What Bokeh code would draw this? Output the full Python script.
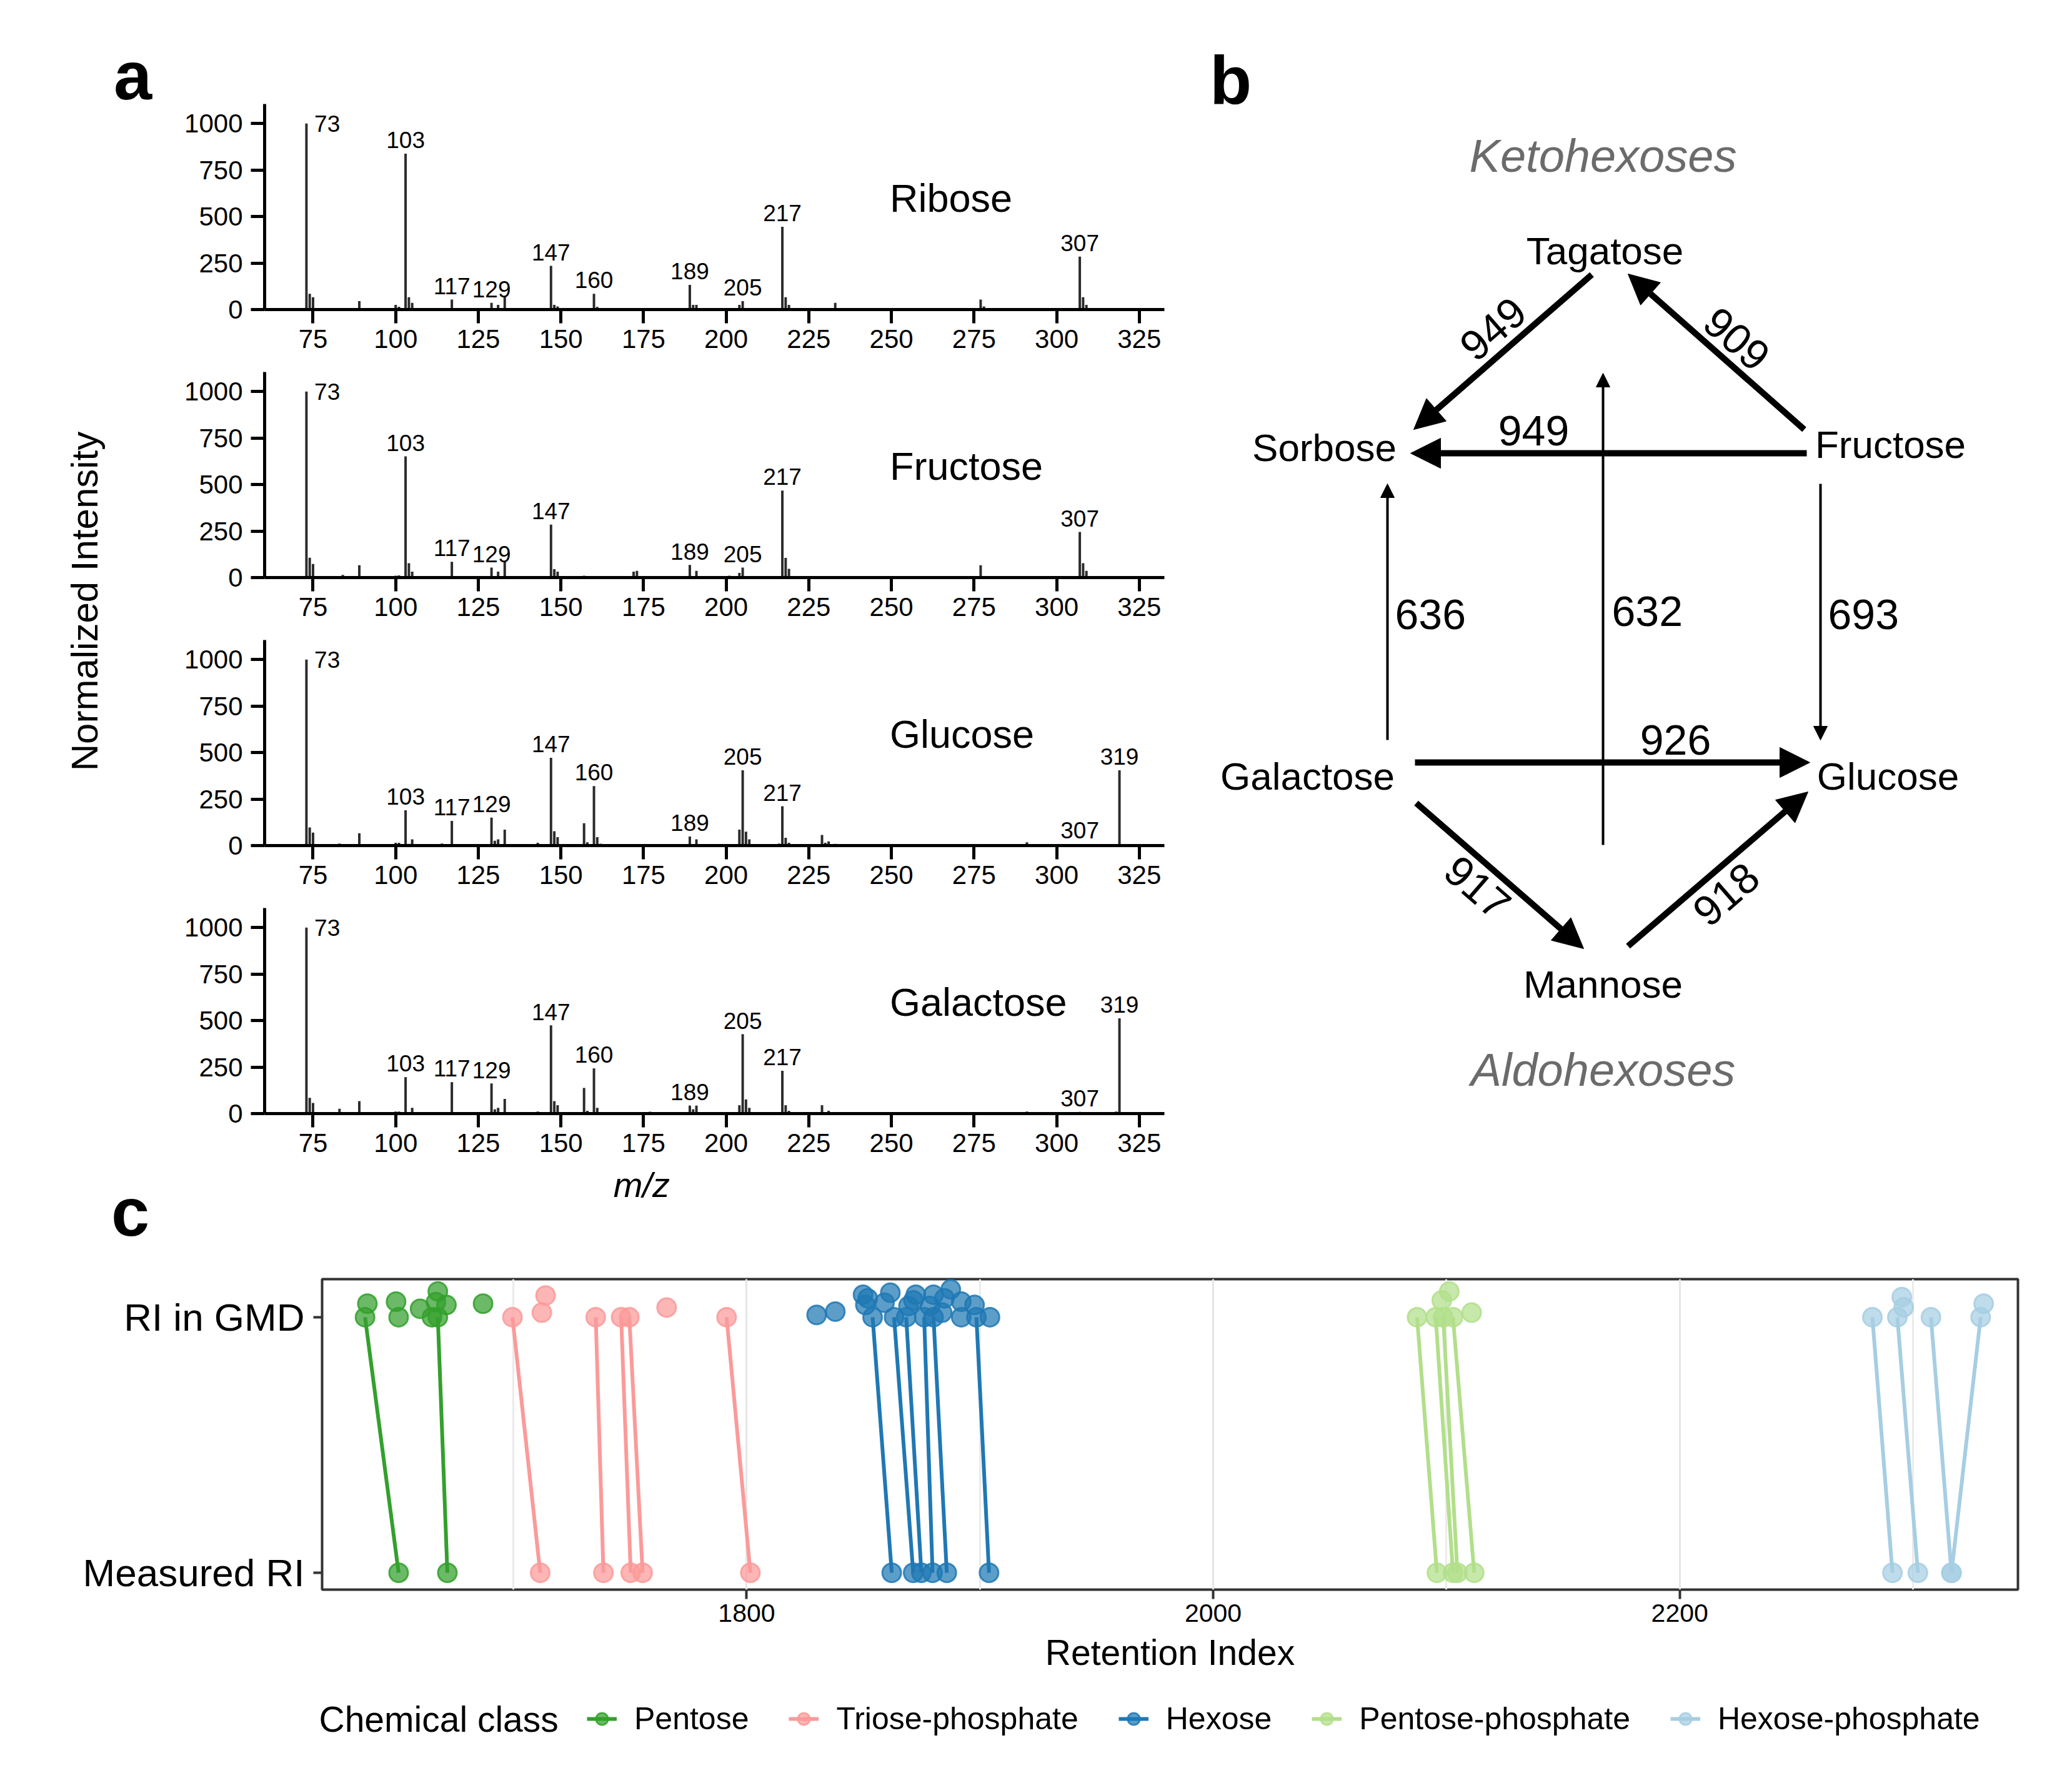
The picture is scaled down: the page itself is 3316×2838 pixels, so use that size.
import math
from bokeh.plotting import figure
from bokeh.layouts import row, column
from bokeh.models import (Range1d, FixedTicker, SingleIntervalTicker, Arrow, NormalHead,
                          Legend, LegendItem)
from bokeh.core.properties import value
from bokeh.embed import file_html
from bokeh.resources import INLINE

FONT = "Liberation Sans"

# ---------------- Panel a: mass spectra ----------------
ribose_mz = [73, 74, 75, 89, 100, 101, 103, 104, 105, 117, 129, 131, 133, 147, 148, 149, 160, 161,
             189, 190, 191, 204, 205, 217, 218, 219, 233, 277, 278, 307, 308, 309]
ribose_int = [1000, 85, 66, 45, 25, 15, 838, 66, 36, 54, 36, 25, 68, 235, 25, 17, 85, 14,
              133, 25, 25, 25, 45, 445, 66, 25, 36, 54, 17, 285, 66, 25]
ribose_labels = [73, 103, 117, 129, 147, 160, 189, 205, 217, 307]

fructose_mz = [73, 74, 75, 84, 89, 100, 101, 103, 104, 105, 114, 117, 119, 129, 131, 133, 134, 143,
               147, 148, 149, 157, 163, 172, 173, 175, 189, 191, 201, 204, 205, 206, 217, 218, 219,
               220, 231, 263, 277, 278, 291, 307, 308, 309]
fructose_int = [1000, 107, 73, 14, 66, 10, 12, 652, 77, 32, 6, 85, 8, 54, 32, 85, 8, 6,
                285, 45, 32, 10, 8, 32, 36, 6, 68, 36, 10, 25, 54, 8, 468, 106, 47,
                6, 8, 8, 66, 8, 6, 245, 77, 36]
fructose_labels = [73, 103, 117, 129, 147, 189, 205, 217, 307]

glucose_mz = [73, 74, 75, 83, 89, 100, 101, 103, 104, 105, 114, 117, 118, 129, 130, 131, 133, 134,
              143, 145, 147, 148, 149, 157, 158, 160, 161, 162, 189, 191, 201, 204, 205, 206, 207,
              216, 217, 218, 219, 229, 230, 231, 233, 262, 274, 277, 291, 305, 307, 319]
glucose_int = [1000, 97, 70, 11, 66, 15, 15, 190, 9, 34, 11, 133, 6, 150, 26, 34, 86, 6,
               15, 8, 472, 77, 45, 120, 18, 320, 45, 10, 49, 34, 6, 86, 405, 75, 34,
               11, 212, 42, 15, 57, 15, 23, 9, 6, 6, 8, 18, 8, 8, 405]
glucose_labels = [73, 103, 117, 129, 147, 160, 189, 205, 217, 307, 319]

galactose_mz = [73, 74, 75, 83, 89, 100, 101, 103, 105, 114, 117, 129, 130, 131, 133, 143, 147, 148,
                149, 157, 158, 160, 161, 162, 177, 189, 190, 191, 201, 204, 205, 206, 207, 216, 217,
                218, 219, 229, 231, 277, 291, 305, 307, 318, 319]
galactose_int = [1000, 85, 57, 26, 67, 11, 11, 196, 31, 5, 169, 162, 23, 31, 79, 11, 474, 67,
                 45, 138, 15, 243, 31, 8, 10, 43, 23, 43, 6, 45, 427, 76, 31, 8, 230,
                 45, 15, 45, 15, 8, 11, 8, 9, 11, 512]
galactose_labels = [73, 103, 117, 129, 147, 160, 189, 205, 217, 307, 319]

spectra_names = ["Ribose", "Fructose", "Glucose", "Galactose"]
spectra_mz = [ribose_mz, fructose_mz, glucose_mz, galactose_mz]
spectra_int = [ribose_int, fructose_int, glucose_int, galactose_int]
spectra_labels = [ribose_labels, fructose_labels, glucose_labels, galactose_labels]
mz_ticks = [75, 100, 125, 150, 175, 200, 225, 250, 275, 300, 325]
int_ticks = [0, 250, 500, 750, 1000]

# ---------------- Panel b: network ----------------
node_names = ["Tagatose", "Sorbose", "Fructose", "Galactose", "Glucose", "Mannose"]
node_x = [2568, 2119, 3025, 2092, 3021, 2565]
node_y = [401, 716, 711, 1242, 1242, 1575]
group_names = ["Ketohexoses", "Aldohexoses"]
group_x = [2565, 2565]
group_y = [249, 1712]

edge_weight = [949, 909, 949, 636, 632, 693, 926, 917, 918]
edge_x0 = [2547, 2887, 2891, 2220, 2565, 2913, 2264, 2266, 2605]
edge_y0 = [439, 687, 725, 1184, 1352, 774, 1220, 1285, 1514]
edge_x1 = [2262, 2605, 2257, 2220, 2565, 2913, 2896, 2534, 2893]
edge_y1 = [687, 438, 725, 774, 597, 1184, 1220, 1518, 1267]
edge_lab_x = [2389, 2779, 2454, 2232, 2579, 2925, 2681, 2364, 2762]
edge_lab_y = [526, 542, 689, 983, 978, 983, 1184, 1420, 1431]
edge_lab_angle = [41, -41, 0, 0, 0, 0, 0, -41, 41]
edge_lab_align = ["center", "center", "center", "left", "left", "left", "center", "center", "center"]

# ---------------- Panel c: retention indices ----------------
classes = ["Pentose", "Triose-phosphate", "Hexose", "Pentose-phosphate", "Hexose-phosphate"]
class_colors = ["#33a02c", "#fb9a99", "#1f78b4", "#b2df8a", "#a6cee3"]

pentose_gmd = [1636.4, 1637.4, 1649.7, 1650.8, 1660.0, 1665.1, 1666.8, 1667.6, 1667.6, 1671.3, 1687.0]
pentose_jit = [0.0, 0.053, 0.061, 0.0, 0.033, 0.0, 0.059, 0.101, 0.0, 0.048, 0.053]
pentose_meas = [1650.8, 1671.7]
pentose_match = [1636.4, 1667.6]

triose_gmd = [1699.6, 1712.2, 1713.8, 1735.3, 1746.2, 1749.7, 1765.7, 1791.4]
triose_jit = [0.0, 0.018, 0.085, 0.0, 0.0, 0.0, 0.038, 0.0]
triose_meas = [1711.5, 1738.6, 1750.3, 1755.4, 1801.6]
triose_match = [1699.6, 1735.3, 1746.2, 1749.7, 1791.4]

hexose_gmd = [1830.0, 1838.0, 1849.9, 1850.9, 1851.9, 1854.0, 1859.1, 1861.6, 1863.2, 1868.4, 1869.4,
              1871.5, 1872.5, 1876.1, 1878.6, 1880.1, 1880.1, 1883.8, 1884.8, 1887.5, 1892.0, 1892.0,
              1897.7, 1898.5, 1904.3]
hexose_jit = [0.009, 0.022, 0.088, 0.048, 0.074, 0.0, 0.057, 0.096, 0.0, 0.0, 0.044,
              0.066, 0.088, 0.0, 0.044, 0.0, 0.088, 0.018, 0.074, 0.109, 0.061, 0.0,
              0.048, 0.0, 0.0]
hexose_meas = [1862.2, 1871.4, 1874.9, 1879.7, 1885.8, 1903.9]
hexose_match = [1854.0, 1863.2, 1868.4, 1876.1, 1880.1, 1898.5]

pp_gmd = [2087.4, 2095.4, 2098.0, 2098.6, 2101.2, 2102.8, 2110.8]
pp_jit = [0.0, 0.0, 0.066, 0.0, 0.101, 0.0, 0.018]
pp_meas = [2095.9, 2102.8, 2104.7, 2111.9]
pp_match = [2087.4, 2095.4, 2098.6, 2102.8]

hp_gmd = [2282.6, 2293.3, 2295.2, 2296.0, 2307.7, 2329.0, 2330.3]
hp_jit = [0.0, 0.0, 0.079, 0.039, 0.0, 0.0, 0.053]
hp_meas = [2291.2, 2302.1, 2316.5, 2316.5]
hp_match = [2282.6, 2293.3, 2307.7, 2329.0]

class_gmd = [pentose_gmd, triose_gmd, hexose_gmd, pp_gmd, hp_gmd]
class_jit = [pentose_jit, triose_jit, hexose_jit, pp_jit, hp_jit]
class_meas = [pentose_meas, triose_meas, hexose_meas, pp_meas, hp_meas]
class_match = [pentose_match, triose_match, hexose_match, pp_match, hp_match]
row_labels = {1: "Measured RI", 2: "RI in GMD"}
legend_title = "Chemical class"

# ======================================================================
TOP_H = 2000
PAGE_W = 3308
PAGE_H = 2830


def style_spec_axis(ax):
    ax.axis_line_color = "black"
    ax.axis_line_width = 5
    ax.major_tick_line_color = "black"
    ax.major_tick_line_width = 5
    ax.major_tick_out = 22
    ax.major_tick_in = 0
    ax.minor_tick_line_color = None
    ax.major_label_text_font = FONT
    ax.major_label_text_font_size = "42px"
    ax.major_label_text_color = "black"


def make_spectrum(i, h, top, bottom, last):
    name, mz, inten, labels = spectra_names[i], spectra_mz[i], spectra_int[i], spectra_labels[i]
    p = figure(width=1630, height=h, x_range=Range1d(60.35, 332.6), y_range=Range1d(0, 1105),
               output_backend="svg", toolbar_location=None,
               min_border_left=143, min_border_right=47, min_border_top=top, min_border_bottom=bottom)
    p.outline_line_color = None
    p.xgrid.visible = False
    p.ygrid.visible = False
    p.vbar(x=mz, top=inten, width=0.75, fill_color="#2b2b2b", line_color=None)
    lookup = dict(zip(mz, inten))
    lx = [m for m in labels if m != labels[0]]
    ly = [lookup[m] + 73 for m in lx]
    p.text(x=lx, y=ly, text=[str(m) for m in lx], text_align="center", text_baseline="middle",
           text_font=value(FONT), text_font_size="37px", text_color="black")
    p.text(x=[labels[0] + 2.4], y=[lookup[labels[0]]], text=[str(labels[0])], text_align="left",
           text_baseline="middle", text_font=value(FONT), text_font_size="37px", text_color="black")
    p.text(x=[249.5], y=[600], text=[name], text_align="left", text_baseline="middle",
           text_font=value(FONT), text_font_size="63px", text_color="black")
    style_spec_axis(p.xaxis)
    style_spec_axis(p.yaxis)
    p.xaxis.ticker = FixedTicker(ticks=mz_ticks)
    p.yaxis.ticker = FixedTicker(ticks=int_ticks)
    p.xaxis.major_label_standoff = 10
    p.yaxis.major_label_standoff = 13
    if last:
        # trailing no-break spaces shift the centred title left, as in the original
        p.xaxis.axis_label = "m/z" + "\u00a0" * 15
        p.xaxis.axis_label_text_font = FONT
        p.xaxis.axis_label_text_font_size = "56px"
        p.xaxis.axis_label_text_font_style = "italic"
        p.xaxis.axis_label_text_color = "black"
        p.xaxis.axis_label_standoff = 18
    return p


spec_figs = [
    make_spectrum(0, 585, 166, 90, False),
    make_spectrum(1, 429, 10, 90, False),
    make_spectrum(2, 429, 10, 90, False),
    make_spectrum(3, 557, 10, 218, True),
]


def blank(w, h, xr, yr):
    f = figure(width=w, height=h, x_range=Range1d(*xr), y_range=Range1d(*yr),
               x_axis_location=None, y_axis_location=None, min_border=0,
               output_backend="svg", toolbar_location=None)
    f.outline_line_color = None
    f.grid.visible = False
    return f


# left strip: panel letters and shared y label
left = blank(280, TOP_H, (0, 280), (TOP_H, 0))
left.text(x=[212, 208], y=[120, 1939], text=["a", "c"], text_align="center",
          text_baseline="middle", text_font=value(FONT), text_font_size="110px",
          text_font_style="bold", text_color="black")
left.text(x=[135], y=[962], text=["Normalized Intensity"], angle=[math.pi / 2],
          text_align="center", text_baseline="middle", text_font=value(FONT),
          text_font_size="60px", text_color="black")

# panel b
pb = blank(PAGE_W - 280 - 1630, TOP_H, (1910, PAGE_W), (TOP_H, 0))
pb.text(x=[1969], y=[127], text=["b"], text_align="center", text_baseline="middle",
        text_font=value(FONT), text_font_size="110px", text_font_style="bold", text_color="black")
pb.text(x=group_x, y=group_y, text=group_names, text_align="center", text_baseline="middle",
        text_font=value(FONT), text_font_size="74px", text_font_style="italic", text_color="#6b6b6b")
pb.text(x=node_x, y=node_y, text=node_names, text_align="center", text_baseline="middle",
        text_font=value(FONT), text_font_size="62px", text_color="black")
for k in range(len(edge_weight)):
    thick = edge_weight[k] > 900
    lw = 10 if thick else 4
    hs = 48 if thick else 22
    pb.add_layout(Arrow(end=NormalHead(size=hs, fill_color="black", line_color="black", line_width=1),
                        x_start=edge_x0[k], y_start=edge_y0[k], x_end=edge_x1[k], y_end=edge_y1[k],
                        line_width=lw, line_color="black"))
    pb.text(x=[edge_lab_x[k]], y=[edge_lab_y[k]], text=[str(edge_weight[k])],
            angle=[math.radians(edge_lab_angle[k])], text_align=edge_lab_align[k],
            text_baseline="middle", text_font=value(FONT), text_font_size="68px", text_color="black")

# panel c
PC_H = 704
pc = figure(width=PAGE_W, height=PC_H, x_range=Range1d(1618, 2345), y_range=Range1d(0.934, 2.149),
            output_backend="svg", toolbar_location=None,
            min_border_left=515, min_border_right=79, min_border_top=47, min_border_bottom=160)
pc.outline_line_color = "#333333"
pc.outline_line_width = 4
pc.ygrid.visible = False
tick = SingleIntervalTicker(interval=200, num_minor_ticks=2)
pc.xaxis.ticker = tick
pc.xgrid.ticker = tick
pc.xgrid.grid_line_color = "#e6e6e6"
pc.xgrid.grid_line_width = 3
pc.xgrid.minor_grid_line_color = "#ebebeb"
pc.xgrid.minor_grid_line_width = 3
for ax in (pc.xaxis, pc.yaxis):
    ax.axis_line_color = None
    ax.major_tick_line_color = "#333333"
    ax.major_tick_line_width = 4
    ax.major_tick_in = 0
    ax.minor_tick_line_color = None
    ax.major_label_text_font = FONT
    ax.major_label_text_color = "black"
pc.xaxis.major_tick_out = 15
pc.yaxis.major_tick_out = 14
pc.xaxis.major_label_text_font_size = "41px"
pc.xaxis.major_label_standoff = 8
pc.yaxis.ticker = FixedTicker(ticks=[1, 2])
pc.yaxis.major_label_overrides = row_labels
pc.yaxis.major_label_text_font_size = "62px"
pc.yaxis.major_label_standoff = 14
pc.xaxis.axis_label = "Retention Index"
pc.xaxis.axis_label_text_font = FONT
pc.xaxis.axis_label_text_font_size = "57px"
pc.xaxis.axis_label_text_font_style = "normal"
pc.xaxis.axis_label_text_color = "black"
pc.xaxis.axis_label_standoff = 14

PT_SIZE = 30
LN_W = 6
for c in range(len(classes)):
    col = class_colors[c]
    xs = class_gmd[c] + class_meas[c]
    ys = [2 + j for j in class_jit[c]] + [1] * len(class_meas[c])
    pc.scatter(x=xs, y=ys, size=PT_SIZE, fill_color=col, fill_alpha=0.72,
               line_color=col, line_alpha=0.85, line_width=3)
    pc.segment(x0=class_match[c], y0=[2] * len(class_match[c]), x1=class_meas[c],
               y1=[1] * len(class_meas[c]), line_color=col, line_width=LN_W)

# legend row (title figure + legend figure)
LEG_H = PAGE_H - TOP_H - PC_H
LEG_X = 921
lt = blank(LEG_X, LEG_H, (0, LEG_X), (PAGE_H, PAGE_H - LEG_H))
lt.text(x=[510], y=[2751], text=[legend_title], text_align="left", text_baseline="middle",
        text_font=value(FONT), text_font_size="57px", text_color="black")

# legend figure: its renderers hold one off-screen sample each so that glyphs can be drawn
lf = blank(PAGE_W - LEG_X, LEG_H, (0, 1), (0, 1))
items = []
for c in range(len(classes)):
    col = class_colors[c]
    r_pts = lf.scatter(x=[-5], y=[-5], size=PT_SIZE, fill_color=col, fill_alpha=0.72,
                       line_color=col, line_alpha=0.85, line_width=3)
    r_ln = lf.line(x=[-6, -5], y=[-5, -5], line_color=col, line_width=LN_W)
    items.append(LegendItem(label=classes[c], renderers=[r_ln, r_pts]))
legend = Legend(items=items, orientation="horizontal", location="top_left",
                label_text_font=FONT, label_text_font_size="50px", label_text_color="black",
                glyph_width=48, glyph_height=58, label_standoff=28, spacing=64,
                border_line_color=None, background_fill_alpha=0, padding=0, margin=18)
lf.add_layout(legend)

layout = column(row(left, column(*spec_figs), pb), pc, row(lt, lf))
open("out.html", "w").write(file_html(layout, INLINE))
